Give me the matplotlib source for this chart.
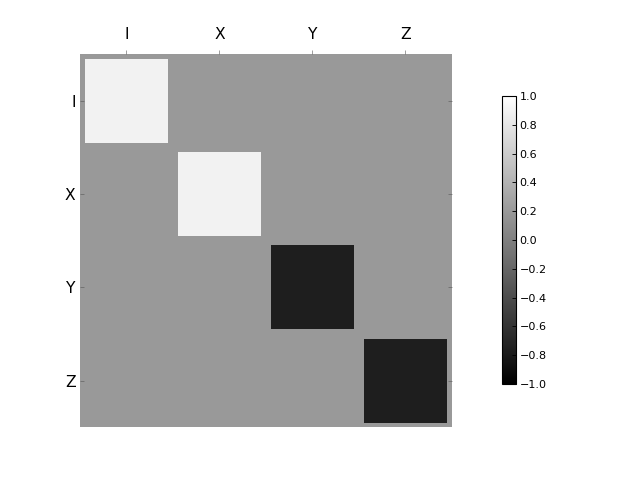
import matplotlib
matplotlib.use("Agg")
import matplotlib.pyplot as plt
from matplotlib.patches import Rectangle
import matplotlib as mpl

labels = ["I", "X", "Y", "Z"]
# matrix of weights, row = y label, column = x label
weights = [
    [1.0, 0.0, 0.0, 0.0],
    [0.0, 1.0, 0.0, 0.0],
    [0.0, 0.0, -1.0, 0.0],
    [0.0, 0.0, 0.0, -1.0],
]

bg_color = "#999999"
pos_color = "#f2f2f2"
neg_color = "#1e1e1e"
box_scale = 0.9

fig = plt.figure(figsize=(8, 6), dpi=80)
ax = fig.add_axes([0.125, 0.110, 0.581, 0.777])
ax.set_facecolor(bg_color)

n = len(labels)
for i, row in enumerate(weights):
    for j, w in enumerate(row):
        if w == 0:
            continue
        size = box_scale * abs(w)
        color = pos_color if w > 0 else neg_color
        ax.add_patch(Rectangle((j + 0.5 - size / 2, i + 0.5 - size / 2),
                               size, size, facecolor=color, edgecolor="none"))

ax.set_xlim(0, n)
ax.set_ylim(n, 0)
ax.set_xticks([k + 0.5 for k in range(n)])
ax.set_yticks([k + 0.5 for k in range(n)])
ax.set_xticklabels(labels, fontsize=14)
ax.set_yticklabels(labels, fontsize=14)
ax.xaxis.tick_top()
ax.tick_params(axis="x", direction="out", length=4, width=0.5, color="#555555",
               pad=7)
ax.tick_params(axis="y", direction="in", length=4, width=0.5, color="#555555",
               right=True, pad=4)
for s in ax.spines.values():
    s.set_visible(False)

cax = fig.add_axes([0.784, 0.2, 0.022, 0.6])
norm = mpl.colors.Normalize(vmin=-1, vmax=1)
cb = mpl.colorbar.ColorbarBase(cax, cmap=plt.cm.gray, norm=norm,
                               ticks=[-1 + 0.2 * k for k in range(11)])
cb.ax.tick_params(direction="in", length=4, width=0.8, labelsize=10)
cb.outline.set_linewidth(1.0)

plt.savefig("out.png", dpi=80)
